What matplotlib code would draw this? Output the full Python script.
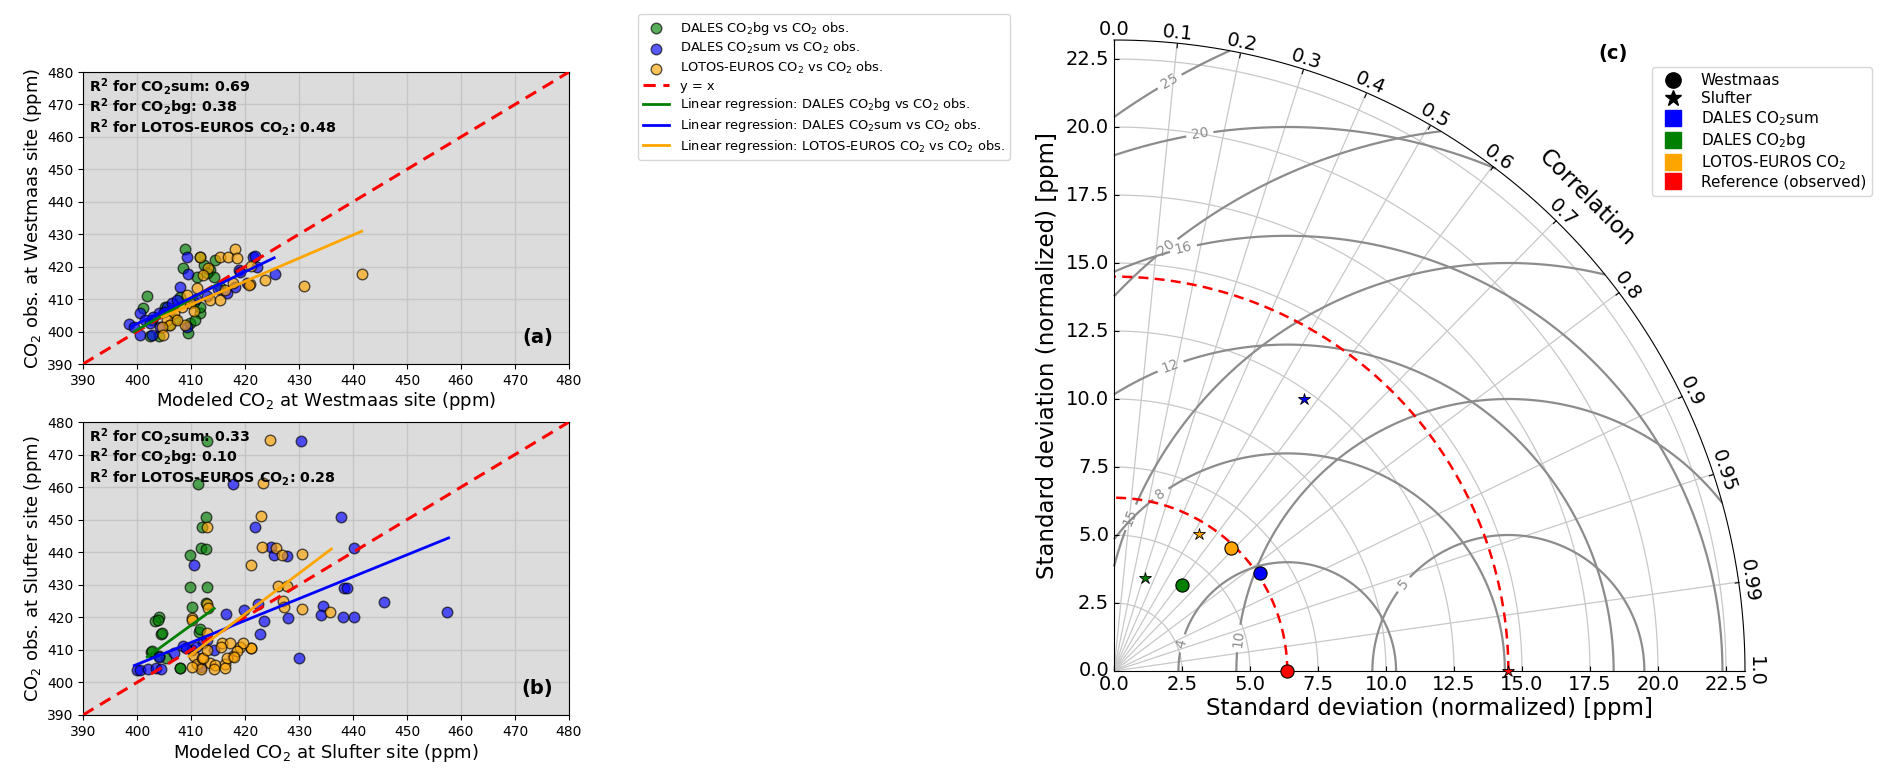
import numpy as np
import matplotlib
matplotlib.use("Agg")
import matplotlib.pyplot as plt
from matplotlib.lines import Line2D
from matplotlib.projections import PolarAxes
import mpl_toolkits.axisartist.floating_axes as FA
import mpl_toolkits.axisartist.grid_finder as GF

# ---------------- data: panel (a) Westmaas ----------------
west_bg_x = [408.8, 408.6, 401.8, 401.2, 411.7, 414.5, 411.1, 411.7, 409.8, 404.0, 402.8, 413.5,
             414.2, 408.0, 405.2, 411.7, 410.8, 402.5, 415.4, 409.5, 412.5, 413.0, 407.0, 406.0, 410.5]
west_bg_y = [425.4, 419.5, 411.0, 407.2, 423.1, 422.1, 416.9, 405.6, 402.6, 398.5, 403.6, 419.0,
             416.9, 410.8, 407.7, 407.7, 403.6, 398.5, 413.8, 399.5, 420.5, 418.0, 404.0, 402.0, 409.0]
west_sum_x = [409.2, 409.4, 408.0, 398.6, 399.4, 400.6, 401.5, 402.8, 400.6, 404.0, 405.5, 406.5,
              421.5, 418.8, 420.3, 418.2, 416.6, 402.5, 407.4, 404.3, 409.2, 422.2, 425.5, 421.9,
              419.0, 403.0, 405.0, 411.0, 413.0, 415.0]
west_sum_y = [423.1, 417.6, 413.6, 402.3, 401.5, 405.6, 403.6, 399.0, 399.0, 405.6, 407.7, 408.7,
              423.1, 419.0, 414.9, 413.8, 411.8, 402.6, 409.7, 401.5, 401.5, 420.0, 417.6, 423.3,
              418.4, 404.5, 406.0, 410.0, 411.0, 413.0]
west_le_x = [411.7, 415.4, 416.8, 418.2, 413.2, 412.3, 411.1, 409.2, 408.3, 406.8, 405.5, 406.2,
             404.6, 404.9, 408.9, 407.4, 413.5, 415.4, 416.3, 417.8, 420.9, 409.8, 410.5, 431.0,
             441.6, 423.7, 418.5, 421.1, 420.7]
west_le_y = [422.9, 422.9, 422.9, 425.3, 419.5, 417.4, 413.3, 411.3, 407.7, 405.6, 403.6, 402.0,
             401.5, 399.0, 402.0, 403.6, 409.7, 409.7, 412.8, 414.9, 414.7, 408.7, 406.2, 414.1,
             417.6, 415.8, 422.8, 420.2, 414.5]
# regression lines: slope, intercept, x_start, x_end
west_reg_bg = [0.95, 20.5, 399.5, 414.5]
west_reg_sum = [0.80, 82.4, 399.0, 425.4]
west_reg_le = [0.7154, 114.98, 404.7, 441.6]
west_r2 = [0.69, 0.38, 0.48]

# ---------------- data: panel (b) Slufter ----------------
sluf_bg_x = [412.9, 411.3, 412.7, 412.0, 411.9, 412.7, 409.9, 409.9, 413.0, 410.2, 412.7, 404.0,
             403.3, 404.5, 402.6, 411.4, 408.0, 405.3, 403.8, 404.7, 402.8, 411.6, 408.0, 404.0]
sluf_bg_y = [474.2, 461.0, 450.9, 447.8, 441.2, 441.0, 439.3, 429.2, 429.2, 423.3, 424.3, 420.2,
             418.9, 414.9, 409.4, 415.6, 404.3, 407.4, 419.3, 415.2, 409.6, 416.3, 404.4, 408.0]
sluf_sum_x = [430.4, 417.7, 437.8, 421.8, 424.9, 425.3, 427.7, 440.2, 410.5, 438.3, 438.8, 445.7,
              457.5, 434.4, 434.0, 438.1, 440.2, 428.0, 422.5, 419.9, 416.4, 423.6, 422.8, 430.0,
              400.0, 400.6, 402.0, 403.5, 404.5, 408.5, 410.2, 412.2, 414.3, 406.8, 404.1, 411.9,
              412.9, 409.0, 411.0]
sluf_sum_y = [474.2, 461.0, 450.9, 447.8, 441.7, 439.3, 438.9, 441.2, 436.2, 429.1, 429.1, 424.6,
              421.6, 423.6, 420.7, 420.1, 420.1, 419.9, 424.0, 422.4, 421.0, 419.0, 414.9, 407.6,
              403.8, 403.8, 404.0, 404.5, 404.0, 411.2, 409.9, 412.0, 409.9, 408.9, 407.9, 404.8,
              413.0, 410.5, 411.0]
sluf_le_x = [424.7, 423.3, 422.9, 423.1, 425.8, 426.9, 430.6, 421.2, 426.1, 427.7, 427.1, 427.2,
             430.6, 435.8, 421.2, 412.9, 413.0, 413.1, 410.2, 410.2, 412.9, 410.5, 411.1, 412.0,
             413.5, 414.5, 416.3, 417.8, 419.1, 421.2, 415.7, 417.2, 419.7, 418.5, 416.6, 411.9,
             414.3, 416.3, 410.2, 412.2, 418.0, 415.6, 413.0]
sluf_le_y = [474.4, 461.3, 451.0, 441.5, 441.3, 439.2, 439.4, 436.2, 429.5, 429.5, 424.9, 423.3,
             422.6, 421.6, 410.5, 447.9, 424.0, 423.0, 419.9, 419.2, 415.2, 408.0, 405.7, 407.5,
             405.9, 405.4, 405.7, 408.0, 410.9, 410.5, 412.0, 412.2, 412.0, 409.8, 407.5, 404.0,
             404.0, 404.3, 404.6, 407.4, 407.9, 411.0, 410.0]
sluf_reg_bg = [1.2016, -75.1, 401.9, 414.3]
sluf_reg_sum = [0.6735, 136.13, 399.5, 457.7]
sluf_reg_le = [1.25, -104.0, 409.6, 436.0]
sluf_r2 = [0.33, 0.10, 0.28]

# ---------------- data: Taylor diagram ----------------
taylor_models = ["DALES CO$_2$sum", "DALES CO$_2$bg", "LOTOS-EUROS CO$_2$"]
taylor_colors = ["blue", "green", "orange"]
west_ref_std = 6.37
west_std = [6.45, 4.02, 6.23]
west_corr = [0.83, 0.62, 0.69]
sluf_ref_std = 14.5
sluf_std = [12.2, 3.61, 5.93]
sluf_corr = [0.574, 0.316, 0.53]
west_rms_levels = [4, 8, 12, 16, 20]
sluf_rms_levels = [5, 10, 15, 20, 25]
corr_ticks = [0.0, 0.1, 0.2, 0.3, 0.4, 0.5, 0.6, 0.7, 0.8, 0.9, 0.95, 0.99, 1.0]
std_ticks = [0.0, 2.5, 5.0, 7.5, 10.0, 12.5, 15.0, 17.5, 20.0, 22.5]

# ---------------- figure ----------------
W, H = 1892, 784
fig = plt.figure(figsize=(W / 100, H / 100), dpi=100)


def frac(left, top, right, bottom):
    return [left / W, 1 - bottom / H, (right - left) / W, (bottom - top) / H]


def draw_panel(ax, gx, gy, bx, by, ox, oy, regs, r2, tag, site):
    ax.set_facecolor("#dcdcdc")
    ax.grid(True, color="#c6c6c6", lw=1.0)
    ax.set_axisbelow(True)
    hs = []
    for xs, ys, col in ((gx, gy, "green"), (bx, by, "blue"), (ox, oy, "orange")):
        hs.append(ax.scatter(xs, ys, s=58, c=col, alpha=0.65, edgecolors="black",
                             linewidths=1.0, zorder=2))
    lim = np.array([390, 480])
    hl, = ax.plot(lim, lim, color="red", ls="--", lw=2.2, dashes=(4, 2.5), zorder=3)
    lines = []
    for reg, col in zip(regs, ("green", "blue", "orange")):
        xs = np.array(reg[2:])
        ln, = ax.plot(xs, reg[0] * xs + reg[1], color=col, lw=2.0, zorder=4)
        lines.append(ln)
    ax.set_xlim(390, 480)
    ax.set_ylim(390, 480)
    ax.set_xticks(np.arange(390, 481, 10))
    ax.set_yticks(np.arange(390, 481, 10))
    ax.tick_params(labelsize=10)
    ax.set_xlabel("Modeled CO$_2$ at %s site (ppm)" % site, fontsize=13, labelpad=2)
    ax.set_ylabel("CO$_2$ obs. at %s site (ppm)" % site, fontsize=13, labelpad=2)
    txts = [r"R$^\mathbf{2}$ for CO$_\mathbf{2}$sum: %.2f" % r2[0],
            r"R$^\mathbf{2}$ for CO$_\mathbf{2}$bg: %.2f" % r2[1],
            r"R$^\mathbf{2}$ for LOTOS-EUROS CO$_\mathbf{2}$: %.2f" % r2[2]]
    for t, yy in zip(txts, (0.949, 0.879, 0.809)):
        ax.text(0.012, yy, t, transform=ax.transAxes, fontsize=10.3, fontweight="bold",
                va="center", ha="left", zorder=6)
    ax.text(0.968, 0.09, tag, transform=ax.transAxes, fontsize=14, fontweight="bold",
            ha="right", va="center")
    return hs, hl, lines


ax_a = fig.add_axes(frac(83, 72, 569, 364))
ax_b = fig.add_axes(frac(83, 422, 569, 715))
hs, hl, lines = draw_panel(ax_a, west_bg_x, west_bg_y, west_sum_x, west_sum_y, west_le_x, west_le_y,
                           (west_reg_bg, west_reg_sum, west_reg_le), west_r2, "(a)", "Westmaas")
draw_panel(ax_b, sluf_bg_x, sluf_bg_y, sluf_sum_x, sluf_sum_y, sluf_le_x, sluf_le_y,
           (sluf_reg_bg, sluf_reg_sum, sluf_reg_le), sluf_r2, "(b)", "Slufter")

leg_labels = ["DALES CO$_2$bg vs CO$_2$ obs.", "DALES CO$_2$sum vs CO$_2$ obs.",
              "LOTOS-EUROS CO$_2$ vs CO$_2$ obs.", "y = x",
              "Linear regression: DALES CO$_2$bg vs CO$_2$ obs.",
              "Linear regression: DALES CO$_2$sum vs CO$_2$ obs.",
              "Linear regression: LOTOS-EUROS CO$_2$ vs CO$_2$ obs."]
fig.legend(hs + [hl] + lines, leg_labels, loc="lower left",
           bbox_to_anchor=(638 / W, 1 - 160 / H), fontsize=9.4, labelspacing=0.28,
           borderaxespad=0)

# ---------------- Taylor diagram ----------------
smax = 1.6 * sluf_ref_std
tr = PolarAxes.PolarTransform(apply_theta_transforms=False)
tlocs = np.arccos(corr_ticks)
gl1 = GF.FixedLocator(tlocs)
tf1 = GF.DictFormatter(dict(zip(tlocs, [str(c) for c in corr_ticks])))
gl2 = GF.FixedLocator(std_ticks)
tf2 = GF.DictFormatter({s: "%.1f" % s for s in std_ticks})
ghelper = FA.GridHelperCurveLinear(tr, extremes=(0, np.pi / 2, 0, smax),
                                   grid_locator1=gl1, tick_formatter1=tf1,
                                   grid_locator2=gl2, tick_formatter2=tf2)
R = 631.0
pad = R * 0.01
ox0, oy0 = 1114, 671
ax_t = fig.add_axes(frac(ox0 - pad, oy0 - R - pad, ox0 + R + pad, oy0 + pad),
                    axes_class=FA.FloatingAxes, grid_helper=ghelper)

ax_t.axis["top"].set_axis_direction("bottom")
ax_t.axis["top"].toggle(ticklabels=True, label=True)
ax_t.axis["top"].major_ticklabels.set_axis_direction("top")
ax_t.axis["top"].label.set_axis_direction("top")
ax_t.axis["top"].label.set_text("Correlation")
ax_t.axis["left"].set_axis_direction("bottom")
ax_t.axis["left"].label.set_text("Standard deviation (normalized) [ppm]")
ax_t.axis["right"].set_axis_direction("top")
ax_t.axis["right"].toggle(ticklabels=True, label=True)
ax_t.axis["right"].major_ticklabels.set_axis_direction("left")
ax_t.axis["right"].label.set_text("Standard deviation (normalized) [ppm]")
ax_t.axis["bottom"].set_visible(False)
for name in ("top", "left", "right"):
    ax_t.axis[name].major_ticklabels.set_fontsize(14)
    ax_t.axis[name].label.set_fontsize(16.5)
ax_t.grid(True, color="#c8c8c8", lw=0.9)

tax = ax_t.get_aux_axes(tr)

rs, ts = np.meshgrid(np.linspace(0, smax, 400), np.linspace(0, np.pi / 2, 400))


def xy_to_tr(pts):
    return [(np.arctan2(y, x), np.hypot(x, y)) for x, y in pts]


west_lab_pos = [(2.49, 1.02), (1.69, 6.54), (2.06, 11.25), (2.54, 15.59), (3.16, 19.7)]
sluf_lab_pos = [(10.64, 3.2), (4.53, 1.2), (0.59, 5.66), (1.95, 15.55), (2.06, 21.65)]
for ref, levels, lpos in ((west_ref_std, west_rms_levels, west_lab_pos),
                          (sluf_ref_std, sluf_rms_levels, sluf_lab_pos)):
    rms = np.sqrt(ref ** 2 + rs ** 2 - 2 * ref * rs * np.cos(ts))
    cs = tax.contour(ts, rs, rms, levels, colors="0.55", linewidths=1.6)
    tax.clabel(cs, inline=True, fontsize=10, fmt="%d", manual=xy_to_tr(lpos))

tt = np.linspace(0, np.pi / 2, 300)
for ref in (west_ref_std, sluf_ref_std):
    tax.plot(tt, np.full_like(tt, ref), color="red", ls="--", lw=1.8, dashes=(4, 2.5))

for std, corr, col in zip(west_std, west_corr, taylor_colors):
    tax.plot(np.arccos(corr), std, marker="o", ms=9.5, mfc=col, mec="k", mew=0.8,
             ls="none", clip_on=False, zorder=5)
for std, corr, col in zip(sluf_std, sluf_corr, taylor_colors):
    tax.plot(np.arccos(corr), std, marker="*", ms=9, mfc=col, mec="k", mew=0.6,
             ls="none", clip_on=False, zorder=5)
tax.plot(0, west_ref_std, marker="o", ms=9.5, mfc="red", mec="k", mew=0.8, ls="none",
         clip_on=False, zorder=6)
tax.plot(0, sluf_ref_std, marker="*", ms=9, mfc="red", mec="k", mew=0.6, ls="none",
         clip_on=False, zorder=6)

t_handles = [Line2D([], [], marker="o", color="k", ls="none", ms=11),
             Line2D([], [], marker="*", color="k", ls="none", ms=12)]
t_labels = ["Westmaas", "Slufter"]
for name, col in zip(taylor_models + ["Reference (observed)"], taylor_colors + ["red"]):
    t_handles.append(Line2D([], [], marker="s", color=col, ls="none", ms=12))
    t_labels.append(name)
fig.legend(t_handles, t_labels, loc="upper right", bbox_to_anchor=(1872 / W, 1 - 67 / H),
           fontsize=11, labelspacing=0.2, borderaxespad=0)

fig.text(1613 / W, 1 - 53 / H, "(c)", fontsize=14, fontweight="bold", ha="center", va="center")

fig.savefig("out.png", dpi=100)
